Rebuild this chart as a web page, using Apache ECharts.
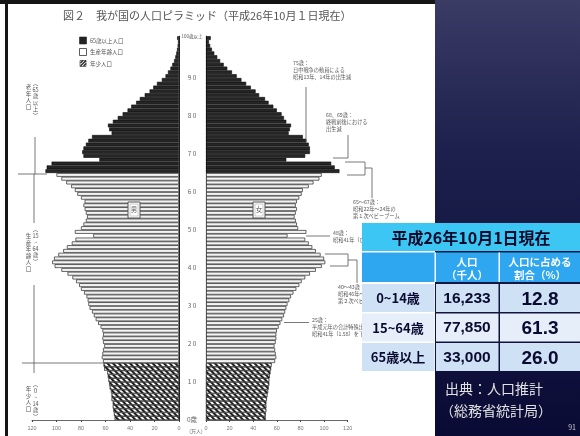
<!DOCTYPE html>
<html lang="ja">
<head>
<meta charset="UTF-8">
<title>我が国の人口ピラミッド</title>
<style>
  html, body { margin: 0; padding: 0; background: #fff; }
  #main { width: 580px; height: 436px; }
</style>
</head>
<body>
<div id="main"></div>
<script src="https://cdn.jsdelivr.net/npm/echarts@6/dist/echarts.min.js"></script>
<script>
// 年齢 0〜100（100 = 100歳以上）
const ages = [];
for (let i = 0; i <= 100; i++) ages.push(String(i));

// 男性人口（万人）
const male = [
  52.5, 53, 53.5, 54, 54, 55, 55, 55.5, 56.5, 57,
  57.5, 58, 58.5, 61, 61.5, 62, 63, 62.5, 62, 61,
  62, 62.5, 62, 62.5, 64, 66, 68, 69.5, 71, 73,
  74, 74.5, 75.5, 77.5, 80, 81.5, 84, 87, 91, 96,
  101.5, 103.5, 102, 98.5, 94.5, 91.5, 87.5, 84.5, 70, 85,
  80, 78, 76, 75, 76, 77, 78, 77, 80, 83,
  85, 88, 92, 96, 100, 109, 108, 104, 65, 78,
  79, 78, 76, 74, 71, 55, 57, 58, 54, 50,
  46, 42, 39, 35, 32, 28, 24, 21, 18, 14,
  11, 9, 7, 5.5, 4, 3, 2.2, 1.6, 1.1, 0.8,
  1.5
];
// 女性人口（万人）
const female = [
  50.5, 50.5, 51, 51, 51, 51.5, 52, 52.5, 53, 53.5,
  53.5, 54, 54.5, 55, 55.5, 58.5, 59.5, 59, 58.5, 58,
  59, 59.5, 59.5, 60, 61.5, 63, 64.5, 66, 67, 68,
  69, 70.5, 72, 74, 76.5, 79, 81, 84, 88, 93,
  98, 101, 100, 97, 93, 90, 87, 84, 69, 85,
  78, 77, 76, 75, 76, 77, 76, 77, 79, 81,
  82, 87, 91, 96, 98, 113, 109, 106, 68, 84,
  88, 88, 87, 85, 82, 70, 71, 72, 68, 66,
  64, 60, 57, 53, 50, 45, 42, 38, 34, 30,
  26, 22, 18, 15, 12, 9.5, 7, 5, 3.5, 2.5,
  4
];
const ageTicks = [0, 10, 20, 30, 40, 50, 60, 70, 80, 90, 101];

// 表
const tableTitle = '平成26年10月1日現在';
const colHeads = [['人口', '（千人）'], ['人口に占める', '割合（%）']];
const groups = ['0~14歳', '15~64歳', '65歳以上'];
const popThousands = [16233, 77850, 33000];
const sharePct = [12.8, 61.3, 26.0];

const FONT = '"Noto Sans CJK JP", sans-serif';
const NUMFONT = '"Liberation Sans", Arial, sans-serif';

const myChart = echarts.init(document.getElementById('main'));

// 年齢区分ごとに系列を分ける
function part(arr, lo, hi) {
  return arr.map(function (v, i) { return (i >= lo && i <= hi) ? v : '-'; });
}
const hatch = {
  symbol: 'rect', symbolSize: 1, color: '#1c1c1c',
  dashArrayX: [1, 0], dashArrayY: [2, 2], rotation: Math.PI / 4
};
function sideSeries(arr, idx) {
  return [
    { type: 'bar', xAxisIndex: idx, yAxisIndex: idx, barGap: '-100%', barCategoryGap: 0,
      data: part(arr, 0, 14), silent: true,
      itemStyle: { color: '#fff', borderColor: '#333', borderWidth: 0.5, decal: hatch } },
    { type: 'bar', xAxisIndex: idx, yAxisIndex: idx, barGap: '-100%', barCategoryGap: 0,
      data: part(arr, 15, 64), silent: true,
      itemStyle: { color: '#f3f3f3', borderColor: '#2a2a2a', borderWidth: 0.7 } },
    { type: 'bar', xAxisIndex: idx, yAxisIndex: idx, barGap: '-100%', barCategoryGap: 0,
      data: part(arr, 65, 100), silent: true,
      itemStyle: { color: '#262626', borderColor: '#0a0a0a', borderWidth: 0.6 } }
  ];
}

// ---- graphic helpers ----
const G = [];
function text(x, y, s, o) {
  o = o || {};
  G.push({
    type: 'text', x: x, y: y, z: o.z || 5, silent: true,
    style: {
      text: s, fill: o.color || '#555',
      font: (o.weight || 'normal') + ' ' + (o.size || 6) + 'px ' + (o.font || FONT),
      align: o.align || 'left', verticalAlign: o.va || 'middle',
      lineHeight: o.lh || undefined
    }
  });
}
function vtext(x, y, parts, o) {
  o = Object.assign({ align: 'center', va: 'top', lh: 6.5, size: 5.5 }, o || {});
  text(x, y, parts.join('\n'), o);
}
function rect(x, y, w, h, fill, o) {
  o = o || {};
  G.push({
    type: 'rect', z: o.z || 5, silent: true,
    shape: { x: x, y: y, width: w, height: h },
    style: { fill: fill, stroke: o.stroke || null, lineWidth: o.lw || 0 }
  });
}
function line(pts, o) {
  o = o || {};
  G.push({
    type: 'polyline', z: o.z || 5, silent: true,
    shape: { points: pts },
    style: { stroke: o.color || '#555', lineWidth: o.lw || 0.8, fill: null }
  });
}

// 枠・右パネル
rect(0, 0, 435, 4, '#151515');
rect(5, 0, 3, 436, '#151515');
G.push({
  type: 'rect', z: 1, silent: true,
  shape: { x: 435, y: 0, width: 145, height: 436 },
  style: {
    fill: new echarts.graphic.LinearGradient(0, 0, 0, 1, [
      { offset: 0, color: '#3a3c66' },
      { offset: 0.35, color: '#1d1f4c' },
      { offset: 1, color: '#0a0b35' }
    ])
  }
});

// タイトル
text(63, 16, '図２　我が国の人口ピラミッド（平成26年10月１日現在）', { size: 11, color: '#555' });

// 凡例
rect(79.5, 37, 7, 7, '#222', { stroke: '#222', lw: 0.6 });
rect(79.5, 48.5, 7, 7, '#fff', { stroke: '#333', lw: 0.8 });
rect(80, 60.5, 6, 6, '#fff', { stroke: '#222', lw: 0.6 });
line([[80.5, 66], [86, 60.5]], { color: '#222', lw: 1.2 });
line([[80.5, 63], [83, 60.5]], { color: '#222', lw: 1.2 });
line([[83.5, 66], [86, 63.5]], { color: '#222', lw: 1.2 });
text(90, 40.5, '65歳以上人口', { size: 5.5 });
text(90, 52, '生産年齢人口', { size: 5.5 });
text(90, 63.5, '年少人口', { size: 5.5 });

// 左側の区分ラベル
vtext(35.5, 80, ['︵', '65', '歳', '以', '上', '︶']);
vtext(28.5, 84, ['老', '年', '人', '口']);
line([[35, 137], [35, 174]]);
line([[18, 174], [47, 174]]);
line([[34, 174], [34, 223]]);
vtext(35.5, 226, ['︵', '15', '~', '64', '歳', '︶']);
vtext(28.5, 233, ['生', '産', '年', '齢', '人', '口']);
line([[34, 285], [34, 373]]);
line([[22, 363], [107, 363]]);
vtext(35.5, 381, ['︵', '0', '~', '14', '歳', '︶']);
vtext(28.5, 386, ['年', '少', '人', '口']);

// 男・女
rect(128, 202, 12, 16, '#fff', { stroke: '#555', lw: 1, z: 6 });
rect(130, 204, 8, 12, '#fff', { stroke: '#999', lw: 0.5, z: 6 });
text(134, 210, '男', { size: 6.5, align: 'center', z: 7 });
rect(253, 202, 12, 16, '#fff', { stroke: '#555', lw: 1, z: 6 });
rect(255, 204, 8, 12, '#fff', { stroke: '#999', lw: 0.5, z: 6 });
text(259, 210, '女', { size: 6.5, align: 'center', z: 7 });

// 注記
const noteOpt = { size: 5.2, va: 'middle', color: '#555' };
text(293, 63, '75歳：', noteOpt);
text(293, 70, '日中戦争の動員による', noteOpt);
text(293, 77, '昭和13年、14年の出生減', noteOpt);
line([[306, 87], [306, 142]]);

text(326, 115, '68、69歳：', noteOpt);
text(326, 122, '終戦前後における', noteOpt);
text(326, 129, '出生減', noteOpt);
line([[348, 135], [348, 158], [333, 158]]);

line([[345, 162], [365, 162], [365, 175], [347, 175]]);
line([[365, 168], [372, 168], [372, 198]]);
text(353, 202, '65～67歳：', noteOpt);
text(353, 209, '昭和22年～24年の', noteOpt);
text(353, 216, '第１次ベビーブーム', noteOpt);

line([[306, 236], [330, 236]]);
text(333, 233, '48歳：', noteOpt);
text(333, 240, '昭和41年（ひのえうま）の出生減', noteOpt);

line([[325, 254], [348, 254], [348, 266], [330, 266]]);
line([[348, 260], [357, 260], [357, 283]]);
text(338, 287, '40～43歳：', noteOpt);
text(338, 294, '昭和46年～49年の', noteOpt);
text(338, 301, '第２次ベビーブーム', noteOpt);

line([[284, 322.5], [309, 322.5]]);
text(312, 320, '25歳：', noteOpt);
text(312, 327, '平成元年の合計特殊出生率', noteOpt);
text(312, 334, '昭和41年（1.58）を下回る', noteOpt);

text(196, 431, '(万人)', { size: 5, align: 'center', color: '#666' });

// 表
rect(362, 223, 218, 28, '#3cc6f4', { z: 20 });
text(471, 237.5, tableTitle, { size: 16, weight: 'bold', color: '#0a0a2a', align: 'center', z: 21 });
rect(362, 252.5, 218, 29.5, '#2ea7f0', { z: 20 });
rect(434.5, 252.5, 1.5, 29.5, '#ffffff', { z: 21 });
rect(498.5, 252.5, 1.5, 29.5, '#ffffff', { z: 21 });
text(467, 262.5, colHeads[0][0], { size: 10.5, weight: 'bold', color: '#fff', align: 'center', z: 22 });
text(467, 275, colHeads[0][1], { size: 10.5, weight: 'bold', color: '#fff', align: 'center', z: 22 });
text(540, 262.5, colHeads[1][0], { size: 10.5, weight: 'bold', color: '#fff', align: 'center', z: 22 });
text(540, 275, colHeads[1][1], { size: 10.5, weight: 'bold', color: '#fff', align: 'center', z: 22 });
const rowY = [284, 313.5, 343];
const rowFill = ['#cfe1f5', '#e6eff9', '#cfe1f5'];
for (let r = 0; r < groups.length; r++) {
  const y = rowY[r], h = 28;
  rect(362, y, 72.5, h, rowFill[r], { z: 20 });
  rect(436, y, 62.5, h, rowFill[r], { z: 20 });
  rect(500, y, 80, h, rowFill[r], { z: 20 });
  const cy = y + h / 2 + 0.5;
  text(398, cy, groups[r], { size: 13, weight: 'bold', color: '#0a0a30', align: 'center', z: 22 });
  text(467, cy, popThousands[r].toLocaleString('en-US'),
    { size: 15.5, weight: 'bold', color: '#0a0a30', align: 'center', z: 22, font: NUMFONT });
  text(540, cy + 1, sharePct[r].toFixed(1),
    { size: 19, weight: 'bold', color: '#0a0a30', align: 'center', z: 22, font: NUMFONT });
}

// 出典
text(445, 389, '出典：人口推計', { size: 14, color: '#e2e2e2', z: 22 });
text(440, 411, '（総務省統計局）', { size: 14, color: '#e2e2e2', z: 22 });
text(576, 427, '91', { size: 7, color: '#cfcfcf', align: 'right', z: 22 });

const axisLabelX = { fontSize: 5.5, color: '#777', margin: 5, fontFamily: NUMFONT };

const option = {
  backgroundColor: '#ffffff',
  animation: false,
  textStyle: { fontFamily: FONT },
  grid: [
    { left: 32, right: 401, top: 36.2, bottom: 16 },
    { left: 206, right: 232.3, top: 36.2, bottom: 16 }
  ],
  xAxis: [
    { gridIndex: 0, type: 'value', min: 0, max: 120, interval: 20, inverse: true,
      axisLine: { show: true, lineStyle: { color: '#444', width: 0.8 } },
      axisTick: { show: true, length: 2, lineStyle: { color: '#444' } },
      axisLabel: axisLabelX, splitLine: { show: false } },
    { gridIndex: 1, type: 'value', min: 0, max: 120, interval: 20,
      axisLine: { show: true, lineStyle: { color: '#444', width: 0.8 } },
      axisTick: { show: true, length: 2, lineStyle: { color: '#444' } },
      axisLabel: axisLabelX, splitLine: { show: false } }
  ],
  yAxis: [
    { gridIndex: 0, type: 'category', data: ages, position: 'right',
      axisLine: { show: true, lineStyle: { color: '#222', width: 1 } },
      axisTick: { show: false }, axisLabel: { show: false } },
    { gridIndex: 1, type: 'category', data: ages, position: 'left',
      axisLine: { show: true, lineStyle: { color: '#222', width: 1 } },
      axisTick: { show: false }, axisLabel: { show: false } },
    { gridIndex: 1, type: 'value', min: 0, max: 101, position: 'left',
      axisLine: { show: false }, axisTick: { show: false }, splitLine: { show: false },
      axisLabel: {
        customValues: ageTicks, margin: 14, align: 'center',
        fontSize: 6.5, color: '#666',
        formatter: function (v) {
          if (v === 0) return '0歳';
          if (v === 101) return '{s|100歳以上}';
          return String(v).split('').join(' ');
        },
        rich: { s: { fontSize: 4.5, color: '#555' } }
      } }
  ],
  series: sideSeries(male, 0).concat(sideSeries(female, 1)),
  graphic: { elements: G }
};

myChart.setOption(option);
</script>
</body>
</html>
